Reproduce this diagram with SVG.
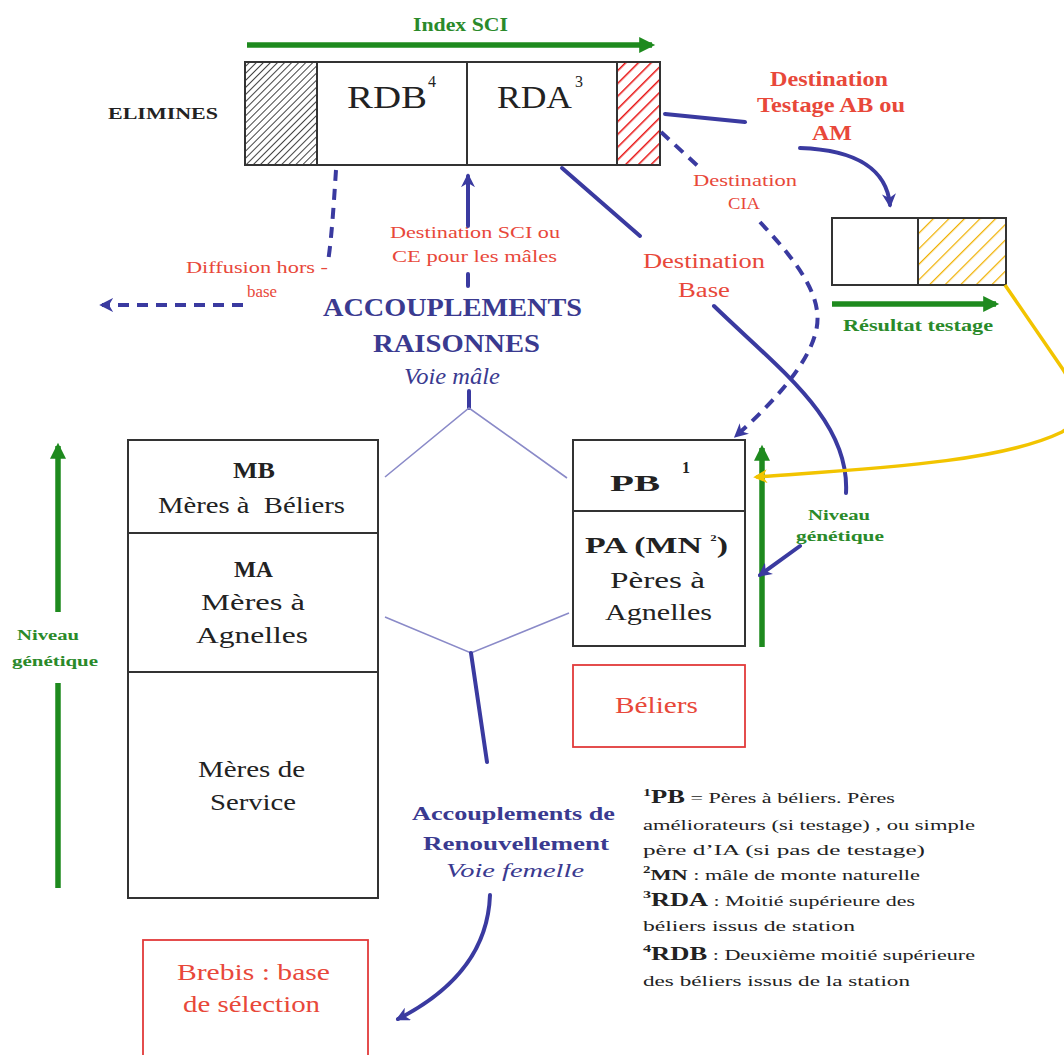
<svg xmlns="http://www.w3.org/2000/svg" width="1064" height="1055" viewBox="0 0 1064 1055">
<style>
text{font-family:"Liberation Serif","Times New Roman",serif}
.box{fill:#fff;stroke:#333;stroke-width:2}
.rbox{fill:#fff;stroke:#e23a3a;stroke-width:1.8}
.blk{fill:#222}
.red{fill:#e8483a}
.grn{fill:#2a8a2a;font-weight:bold}
.blu{fill:#3a3a90}
.b{font-weight:bold}
.solid{fill:none;stroke:#3a3aa0;stroke-width:4;stroke-linecap:round}
.dash{fill:none;stroke:#3a3aa0;stroke-width:4;stroke-dasharray:11 8}
.thin{fill:none;stroke:#8a8ac8;stroke-width:1.6}
.garr{fill:none;stroke:#1e8a1e;stroke-width:5.5}
.yel{fill:none;stroke:#f2c400;stroke-width:3.5}
</style>
<defs>
<pattern id="hGray" patternUnits="userSpaceOnUse" width="5" height="5" patternTransform="rotate(45)"><rect width="5" height="5" fill="#fff"/><line x1="0" y1="0" x2="0" y2="5" stroke="#444" stroke-width="2"/></pattern>
<pattern id="hRed" patternUnits="userSpaceOnUse" width="9" height="9" patternTransform="rotate(45)"><rect width="9" height="9" fill="#fff"/><line x1="0" y1="0" x2="0" y2="9" stroke="#e81010" stroke-width="3"/></pattern>
<pattern id="hYel" patternUnits="userSpaceOnUse" width="11" height="11" patternTransform="rotate(45)"><rect width="11" height="11" fill="#fff"/><line x1="0" y1="0" x2="0" y2="11" stroke="#f0b000" stroke-width="2.5"/></pattern>
<marker id="aB" viewBox="0 0 10 10" refX="8" refY="5" markerWidth="14" markerHeight="14" markerUnits="userSpaceOnUse" orient="auto"><path d="M0,0 L10,5 L0,10 L3,5 z" fill="#3a3aa0"/></marker>
<marker id="aG" viewBox="0 0 10 10" refX="8" refY="5" markerWidth="18" markerHeight="16" markerUnits="userSpaceOnUse" orient="auto"><path d="M0,0 L10,5 L0,10 z" fill="#1e8a1e"/></marker>
<marker id="aY" viewBox="0 0 10 10" refX="8" refY="5" markerWidth="14" markerHeight="14" markerUnits="userSpaceOnUse" orient="auto"><path d="M0,0 L10,5 L0,10 L3,5 z" fill="#f2c400"/></marker>
</defs>
<rect width="1064" height="1055" fill="#fff"/>

<g id="index-sci">
<line class="garr" x1="247" y1="45" x2="652" y2="45" marker-end="url(#aG)"/>
<text class="grn" x="413" y="31" font-size="18" textLength="95" lengthAdjust="spacingAndGlyphs">Index SCI</text>
</g>
<g id="elimines">
<text class="blk b" x="108" y="119" font-size="16" textLength="110" lengthAdjust="spacingAndGlyphs">ELIMINES</text>
<rect x="245" y="62" width="72" height="103" fill="url(#hGray)" stroke="#333" stroke-width="2"/>
</g>
<g id="rdb">
<rect class="box" x="317" y="62" width="150" height="103"/>
<text class="blk" x="347" y="108" font-size="32" textLength="80" lengthAdjust="spacingAndGlyphs">RDB</text>
<text class="blk" x="428" y="87" font-size="16">4</text>
</g>
<g id="rda">
<rect class="box" x="467" y="62" width="150" height="103"/>
<text class="blk" x="497" y="108" font-size="32" textLength="75" lengthAdjust="spacingAndGlyphs">RDA</text>
<text class="blk" x="575" y="87" font-size="16">3</text>
<rect x="617" y="62" width="43" height="103" fill="url(#hRed)" stroke="#333" stroke-width="2"/>
</g>

<g id="testage">
<rect class="box" x="832" y="218" width="86" height="67"/>
<rect x="918" y="218" width="88" height="67" fill="url(#hYel)" stroke="#333" stroke-width="2"/>
<line class="garr" x1="832" y1="304" x2="996" y2="304" marker-end="url(#aG)"/>
<text class="grn" x="843" y="331" font-size="16" textLength="150" lengthAdjust="spacingAndGlyphs">Résultat testage</text>
</g>

<g id="mb">
<rect class="box" x="128" y="440" width="250" height="93"/>
<text class="blk b" x="233" y="478" font-size="24" textLength="42" lengthAdjust="spacingAndGlyphs">MB</text>
<text class="blk" x="158" y="513" font-size="24" textLength="187" lengthAdjust="spacingAndGlyphs" xml:space="preserve">Mères à  Béliers</text>
</g>
<g id="ma">
<rect class="box" x="128" y="533" width="250" height="139"/>
<text class="blk b" x="234" y="577" font-size="24" textLength="39" lengthAdjust="spacingAndGlyphs">MA</text>
<text class="blk" x="201" y="610" font-size="24" textLength="104" lengthAdjust="spacingAndGlyphs">Mères à</text>
<text class="blk" x="196" y="643" font-size="24" textLength="112" lengthAdjust="spacingAndGlyphs">Agnelles</text>
</g>
<g id="ms">
<rect class="box" x="128" y="672" width="250" height="226"/>
<text class="blk" x="198" y="777" font-size="24" textLength="107" lengthAdjust="spacingAndGlyphs">Mères de</text>
<text class="blk" x="210" y="810" font-size="24" textLength="86" lengthAdjust="spacingAndGlyphs">Service</text>
</g>
<g id="niveau-left">
<line class="garr" x1="58" y1="612" x2="58" y2="446" marker-end="url(#aG)"/>
<line class="garr" x1="58" y1="683" x2="58" y2="888"/>
<text class="grn" x="17" y="640" font-size="15" textLength="62" lengthAdjust="spacingAndGlyphs">Niveau</text>
<text class="grn" x="12" y="666" font-size="15" textLength="86" lengthAdjust="spacingAndGlyphs">génétique</text>
</g>

<g id="pb">
<rect class="box" x="573" y="440" width="172" height="71"/>
<text class="blk b" x="610" y="491" font-size="24" textLength="50" lengthAdjust="spacingAndGlyphs">PB</text>
<text class="blk b" x="682" y="473" font-size="16">1</text>
</g>
<g id="pa">
<rect class="box" x="573" y="511" width="172" height="135"/>
<text class="blk b" x="585" y="553" font-size="24" textLength="143" lengthAdjust="spacingAndGlyphs">PA (MN <tspan font-size="15" dy="-8">²</tspan><tspan dy="8">)</tspan></text>
<text class="blk" x="610" y="588" font-size="24" textLength="95" lengthAdjust="spacingAndGlyphs">Pères à</text>
<text class="blk" x="605" y="620" font-size="24" textLength="107" lengthAdjust="spacingAndGlyphs">Agnelles</text>
</g>
<g id="beliers">
<rect class="rbox" x="573" y="665" width="172" height="82"/>
<text class="red" x="615" y="713" font-size="24" textLength="83" lengthAdjust="spacingAndGlyphs">Béliers</text>
</g>
<g id="niveau-right">
<line class="garr" x1="762" y1="647" x2="762" y2="448" marker-end="url(#aG)"/>
<text class="grn" x="808" y="520" font-size="15" textLength="62" lengthAdjust="spacingAndGlyphs">Niveau</text>
<text class="grn" x="796" y="541" font-size="15" textLength="88" lengthAdjust="spacingAndGlyphs">génétique</text>
</g>
<g id="brebis">
<rect class="rbox" x="143" y="940" width="225" height="125"/>
<text class="red" x="177" y="980" font-size="24" textLength="153" lengthAdjust="spacingAndGlyphs">Brebis : base</text>
<text class="red" x="183" y="1012" font-size="24" textLength="137" lengthAdjust="spacingAndGlyphs">de sélection</text>
</g>

<g id="labels">
<text class="red b" x="770" y="86" font-size="20" textLength="118" lengthAdjust="spacingAndGlyphs">Destination</text>
<text class="red b" x="757" y="112" font-size="20" textLength="148" lengthAdjust="spacingAndGlyphs">Testage AB ou</text>
<text class="red b" x="812" y="140" font-size="20" textLength="40" lengthAdjust="spacingAndGlyphs">AM</text>
<text class="red" x="693" y="186" font-size="16" textLength="104" lengthAdjust="spacingAndGlyphs">Destination</text>
<text class="red" x="728" y="209" font-size="16" textLength="32" lengthAdjust="spacingAndGlyphs">CIA</text>
<text class="red" x="390" y="238" font-size="16" textLength="170" lengthAdjust="spacingAndGlyphs">Destination SCI ou</text>
<text class="red" x="392" y="262" font-size="16" textLength="165" lengthAdjust="spacingAndGlyphs">CE pour les mâles</text>
<text class="red" x="186" y="273" font-size="16" textLength="142" lengthAdjust="spacingAndGlyphs">Diffusion hors -</text>
<text class="red" x="247" y="297" font-size="16" textLength="30" lengthAdjust="spacingAndGlyphs">base</text>
<text class="red" x="643" y="268" font-size="20" textLength="122" lengthAdjust="spacingAndGlyphs">Destination</text>
<text class="red" x="678" y="297" font-size="20" textLength="52" lengthAdjust="spacingAndGlyphs">Base</text>
<text class="blu b" x="323" y="316" font-size="25" textLength="259" lengthAdjust="spacingAndGlyphs">ACCOUPLEMENTS</text>
<text class="blu b" x="373" y="352" font-size="25" textLength="167" lengthAdjust="spacingAndGlyphs">RAISONNES</text>
<text class="blu" x="404" y="384" font-size="23" font-style="italic" textLength="96" lengthAdjust="spacingAndGlyphs">Voie mâle</text>
<text class="blu b" x="412" y="820" font-size="19" textLength="203" lengthAdjust="spacingAndGlyphs">Accouplements de</text>
<text class="blu b" x="423" y="850" font-size="19" textLength="186" lengthAdjust="spacingAndGlyphs">Renouvellement</text>
<text class="blu" x="446" y="877" font-size="19" font-style="italic" textLength="138" lengthAdjust="spacingAndGlyphs">Voie femelle</text>
</g>

<g id="legend" class="blk" font-size="15">
<text x="643" y="803" textLength="252" lengthAdjust="spacingAndGlyphs"><tspan class="b" font-size="11" dy="-7">1</tspan><tspan class="b" font-size="18" dy="7">PB</tspan> = Pères à béliers. Pères</text>
<text x="643" y="830" textLength="332" lengthAdjust="spacingAndGlyphs">améliorateurs (si testage) , ou simple</text>
<text x="643" y="855" textLength="282" lengthAdjust="spacingAndGlyphs">père d’IA (si pas de testage)</text>
<text x="643" y="880" textLength="277" lengthAdjust="spacingAndGlyphs"><tspan class="b" font-size="10" dy="-7">2</tspan><tspan class="b" font-size="15" dy="7">MN</tspan> :  mâle de monte naturelle</text>
<text x="643" y="906" textLength="272" lengthAdjust="spacingAndGlyphs"><tspan class="b" font-size="11" dy="-8">3</tspan><tspan class="b" font-size="18" dy="8">RDA</tspan> : Moitié supérieure des</text>
<text x="643" y="931" textLength="212" lengthAdjust="spacingAndGlyphs">béliers issus de station</text>
<text x="643" y="960" textLength="332" lengthAdjust="spacingAndGlyphs"><tspan class="b" font-size="11" dy="-8">4</tspan><tspan class="b" font-size="18" dy="8">RDB</tspan> : Deuxième moitié supérieure</text>
<text x="643" y="986" textLength="267" lengthAdjust="spacingAndGlyphs">des béliers issus de la station</text>
</g>

<g id="connectors">
<path class="dash" d="M336,170 C334,200 332,235 328,262"/>
<path class="dash" d="M243,305 L102,305" marker-end="url(#aB)"/>
<path class="solid" d="M468,226 L468,176" marker-end="url(#aB)"/>
<line class="solid" x1="468" y1="274" x2="468" y2="286"/>
<line class="solid" x1="469" y1="391" x2="469" y2="408"/>
<polyline class="thin" points="385,477 469,408 567,478"/>
<polyline class="thin" points="385,617 471,653 569,613"/>
<path class="solid" d="M471,653 L487,762"/>
<path class="solid" d="M490,895 C488,950 455,990 398,1019" marker-end="url(#aB)"/>
<path class="solid" d="M665,114 L745,122"/>
<path class="solid" d="M800,148 C860,150 887,172 890,205" marker-end="url(#aB)"/>
<path class="dash" d="M661,132 L700,168"/>
<path class="dash" d="M760,222 C800,265 826,300 815,335 C805,370 765,410 736,436" marker-end="url(#aB)"/>
<path class="solid" d="M562,168 L640,236"/>
<path class="solid" d="M714,306 C780,370 850,420 846,493"/>
<path class="solid" d="M800,546 L760,575" marker-end="url(#aB)"/>
<path class="yel" d="M1005,285 L1062,368 C1080,395 1082,420 1062,432 C1000,462 880,468 756,477" marker-end="url(#aY)"/>
</g>
</svg>
